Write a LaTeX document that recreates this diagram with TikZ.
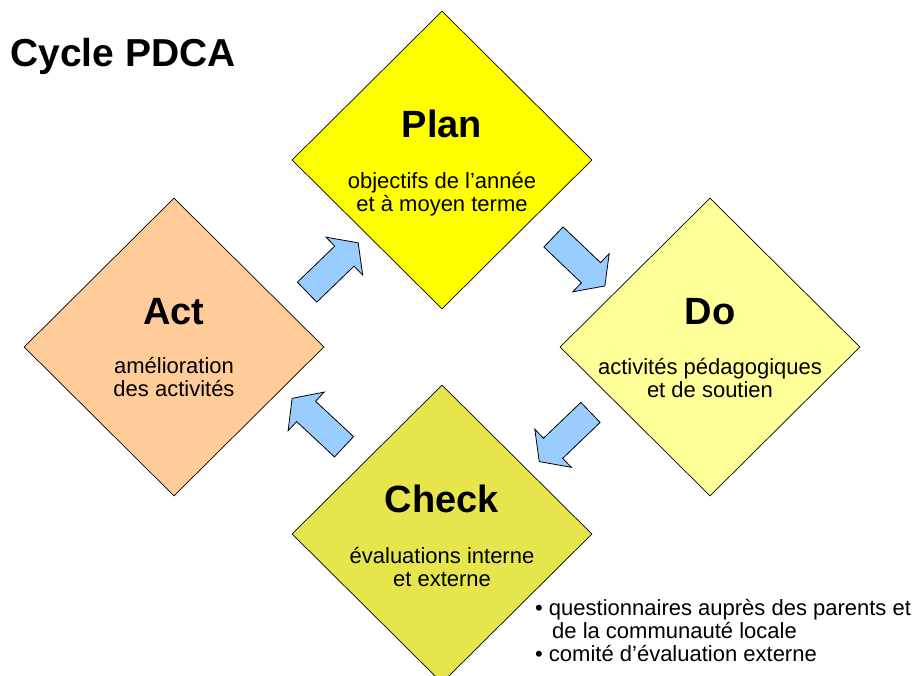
\documentclass[tikz,border=0pt]{standalone}
\usepackage{fontspec}
\setmainfont{Liberation Sans}
\usetikzlibrary{shapes.geometric,shapes.arrows}
\definecolor{planc}{HTML}{FFFF00}
\definecolor{doc}{HTML}{FFFF99}
\definecolor{checkc}{HTML}{E6E64C}
\definecolor{actc}{HTML}{FFCC99}
\definecolor{arrc}{HTML}{99CCFF}
\tikzset{
  phase/.style={diamond, draw=black, line width=0.7pt, minimum width=300pt, minimum height=298pt, inner sep=0pt},
  ttl/.style={anchor=base, font=\fontsize{38}{40}\selectfont\bfseries, inner sep=0pt},
  sub/.style={anchor=base, font=\fontsize{22}{23}\selectfont, inner sep=0pt},
  blockarrow/.style={single arrow, draw=black, line width=0.8pt, fill=arrc, inner sep=13.5pt, minimum height=71pt, single arrow head extend=12.5pt, single arrow tip angle=108},
  note/.style={anchor=base west, font=\fontsize{22}{23}\selectfont, inner sep=0pt}
}
\begin{document}
\begin{tikzpicture}[x=1pt,y=-1pt]
\useasboundingbox (0,0) rectangle (919,676);
\clip (0,0) rectangle (919,676);
\fill[white] (0,0) rectangle (919,676);
\node[anchor=base west, font=\fontsize{39}{41}\selectfont\bfseries, inner sep=0pt] (title) at (10,67) {Cycle PDCA};
% diamonds
\node[phase, fill=planc] (plan) at (442,160) {};
\node[phase, fill=actc] (act) at (174,347) {};
\node[phase, fill=doc] (do) at (710,347) {};
\node[phase, fill=checkc] (check) at (442,534) {};
% arrows
\node[blockarrow, rotate=44] (a1) at (329,271) {};
\node[blockarrow, rotate=-43.6] (a2) at (575.5,258) {};
\node[blockarrow, rotate=-136.2] (a3) at (568.5,433.5) {};
\node[blockarrow, rotate=137] (a4) at (321.75,426) {};
% texts
\node[ttl] (plant) at (442,138) {Plan};
\node[sub] (plans1) at (442,189) {objectifs de l’année};
\node[sub] (plans2) at (442,212) {et à moyen terme};
\node[ttl] (dot) at (710,325) {Do};
\node[sub] (dos1) at (710,375) {activités pédagogiques};
\node[sub] (dos2) at (710,398) {et de soutien};
\node[ttl] (actt) at (174,325) {Act};
\node[sub] (acts1) at (174,374) {amélioration};
\node[sub] (acts2) at (174,397) {des activités};
\node[ttl] (checkt) at (442,512) {Check};
\node[sub] (checks1) at (442,563) {évaluations interne};
\node[sub] (checks2) at (442,586) {et externe};
% notes
\node[note] (n1) at (535,615) {• questionnaires auprès des parents et};
\node[note] (n2) at (552,638) {de la communauté locale};
\node[note] (n3) at (535,661) {• comité d’évaluation externe};
\end{tikzpicture}
\end{document}
